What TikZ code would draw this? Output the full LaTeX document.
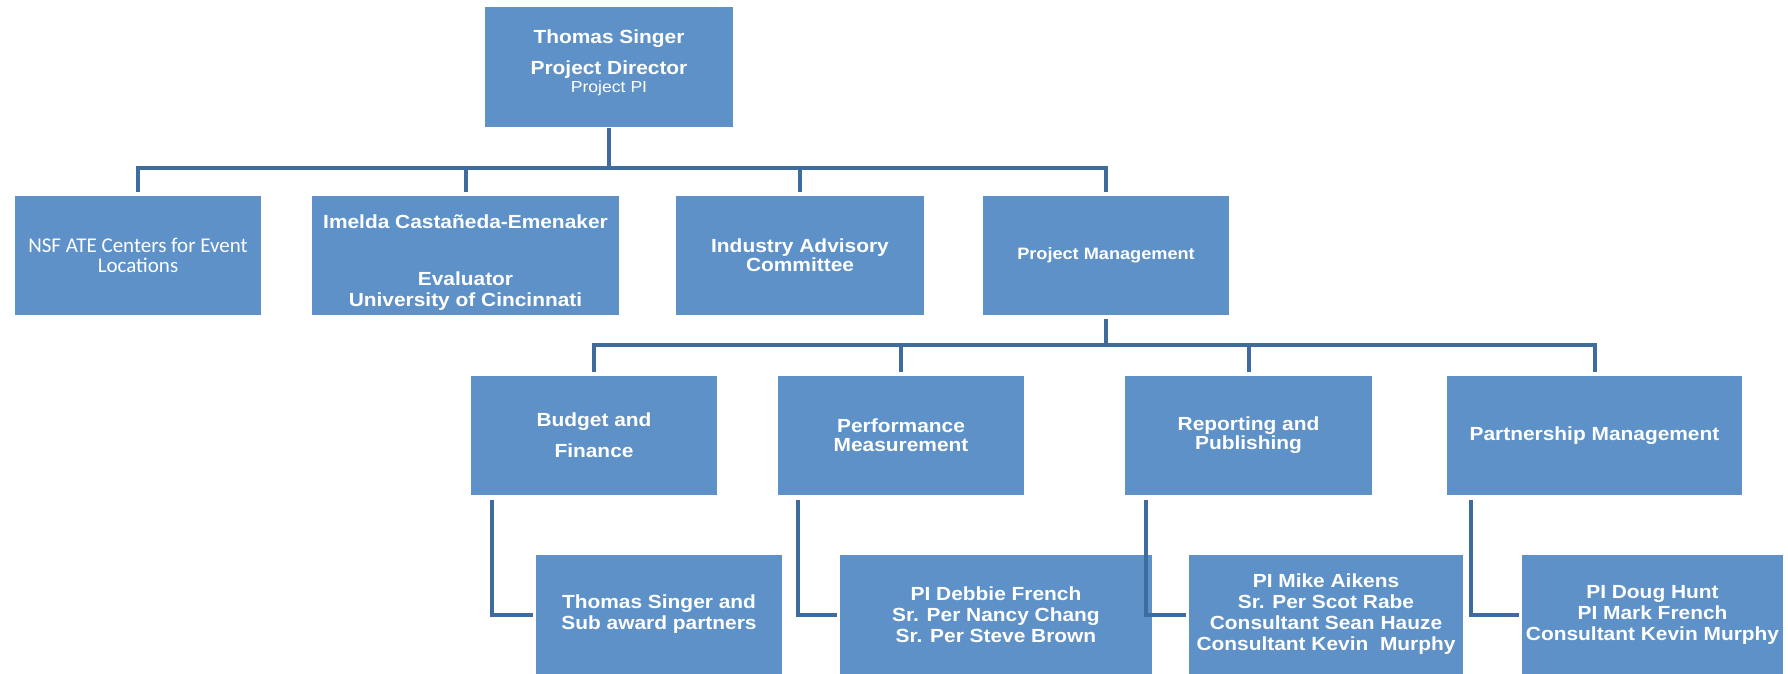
\documentclass[tikz,border=0pt]{standalone}
\usepackage{fontspec}
\setmainfont{Liberation Sans}[FakeStretch=1.1]
\newfontfamily\calib{Carlito}
\definecolor{boxc}{RGB}{93,145,199}
\definecolor{linec}{RGB}{62,108,158}
\tikzset{
  box/.style={fill=boxc, draw=none, inner sep=0pt, align=center, text=white,
    font=\bfseries\fontsize{19}{21}\selectfont},
  txt/.style={inner sep=0pt, align=center, text=white,
    font=\bfseries\fontsize{19}{21}\selectfont},
  conn/.style={draw=linec, line width=4pt, line cap=rect, line join=miter},
}
\begin{document}
\begin{tikzpicture}[x=1pt,y=-1pt]
\useasboundingbox (0,0) rectangle (1788,674);
% level 1
\node[box, minimum width=248pt, minimum height=120pt] (top) at (609,67) {};
\node[txt] (toptxt) at ([yshift=4pt]top.center)
  {Thomas Singer\\[10pt]Project Director\\[-3pt]{\mdseries\fontsize{16}{21}\selectfont Project PI}};
% level 2
\node[box, minimum width=246pt, minimum height=119pt, font=\calib\fontsize{21}{20}\selectfont] (nsf) at (138,255.5)
  {NSF ATE Centers for Event\\Locations};
\node[box, minimum width=307pt, minimum height=119pt] (imelda) at (465.5,255.5) {};
\node[txt] (imeldatxt) at ([yshift=-7pt]imelda.center)
  {Imelda Casta\~neda-Emenaker\\[36pt]Evaluator\\University of Cincinnati};
\node[box, minimum width=248pt, minimum height=119pt] (ind) at (800,255.5)
  {Industry Advisory\\[-2pt]Committee};
\node[box, minimum width=246pt, minimum height=119pt, font=\bfseries\fontsize{16.5}{18}\selectfont] (pm) at (1106,255.5)
  {Project Management};
% level 3
\node[box, minimum width=246pt, minimum height=119pt] (budget) at (594,435.5)
  {Budget and\\[10pt]Finance};
\node[box, minimum width=246pt, minimum height=119pt] (perf) at (901,435.5)
  {Performance\\[-2pt]Measurement};
\node[box, minimum width=247pt, minimum height=119pt] (rep) at (1248.5,435.5)
  {Reporting and\\[-2pt]Publishing};
\node[box, minimum width=295pt, minimum height=119pt] (part) at (1594.5,435.5)
  {Partnership Management};
% level 4
\node[box, minimum width=246pt, minimum height=119pt] (ts) at (659,614.5)
  {Thomas Singer and\\Sub award partners};
\node[box, minimum width=312pt, minimum height=119pt] (deb) at (996,614.5)
  {PI Debbie French\\Sr. Per Nancy Chang\\Sr. Per Steve Brown};
\node[box, minimum width=274pt, minimum height=119pt] (mike) at (1326,614.5)
  {PI Mike Aikens\\Sr. Per Scot Rabe\\Consultant Sean Hauze\\Consultant Kevin\ \ Murphy};
\node[box, minimum width=261pt, minimum height=119pt] (doug) at (1652.5,614.5)
  {PI Doug Hunt\\PI Mark French\\Consultant Kevin Murphy};
% bars
\coordinate (bar1) at (609,168);
\coordinate (bar2) at (1106,345);
\draw[conn] ([yshift=-3pt]top.south) -- (top.south |- bar1);
\draw[conn] ([yshift=6pt]nsf.north) |- (pm.north |- bar1) -- ([yshift=6pt]pm.north);
\draw[conn] ([yshift=6pt]imelda.north) -- (imelda.north |- bar1);
\draw[conn] ([yshift=6pt]ind.north) -- (ind.north |- bar1);
\draw[conn] ([yshift=-6pt]pm.south) -- (bar2);
\draw[conn] ([yshift=6pt]budget.north) |- (part.north |- bar2) -- ([yshift=6pt]part.north);
\draw[conn] ([yshift=6pt]perf.north) -- (perf.north |- bar2);
\draw[conn] ([yshift=6pt]rep.north) -- (rep.north |- bar2);
% elbows
\draw[conn] ([xshift=21pt,yshift=-7pt]budget.south west) |- ([xshift=-5pt]ts.west);
\draw[conn] ([xshift=20pt,yshift=-7pt]perf.south west) |- ([xshift=-5pt]deb.west);
\draw[conn] ([xshift=21pt,yshift=-7pt]rep.south west) |- ([xshift=-5pt]mike.west);
\draw[conn] ([xshift=24pt,yshift=-7pt]part.south west) |- ([xshift=-5pt]doug.west);
\end{tikzpicture}
\end{document}
